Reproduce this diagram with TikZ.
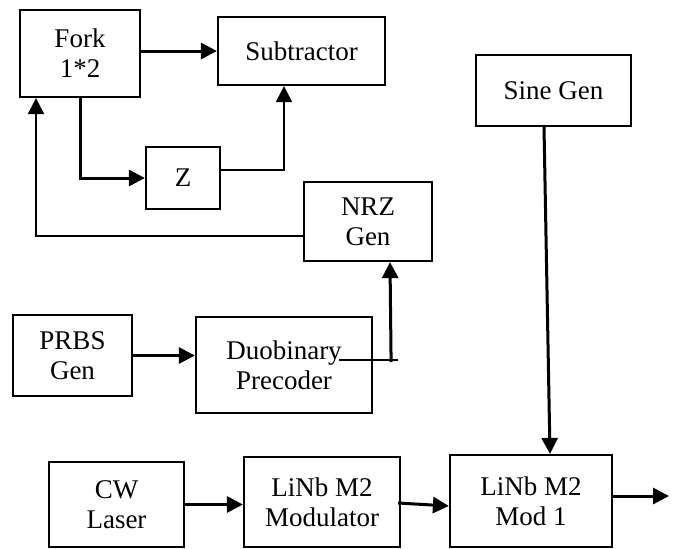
\documentclass[tikz,border=0pt]{standalone}
\usepackage{fontspec}
\setmainfont{Liberation Serif}
\usetikzlibrary{arrows.meta, calc}

\begin{document}
\begin{tikzpicture}[
		x=0.5pt, y=-0.5pt,
		>={Triangle[length=8pt, width=8pt]},
		block/.style={rectangle, draw=black, line width=1.1pt, inner sep=0pt, align=center, font=\fontsize{13.5}{15}\selectfont},
		arr/.style={->, line width=1.5pt},
		wire/.style={line width=1pt}
		]
		\useasboundingbox (0,0) rectangle (674,548);
		
		% Upper part
		\node[block, minimum width=60pt, minimum height=43.5pt] (fork) at (80, 53.5) {Fork\\1*2};
		\node[block, minimum width=83.5pt, minimum height=34pt] (sub) at (301.5, 51) {Subtractor};
		\node[block, minimum width=37pt, minimum height=31pt] (z) at (183, 178) {Z};
		\node[block, minimum width=64pt, minimum height=39.5pt] (nrz) at (368, 221.5) {NRZ\\Gen};
		\node[block, minimum width=77.5pt, minimum height=35.5pt] (sine) at (553.5, 90.5) {Sine Gen};
		
		% Middle row
		\node[block, minimum width=59.5pt, minimum height=40.5pt] (prbs) at (72.5, 355.5) {PRBS\\Gen};
		\node[block, minimum width=88pt, minimum height=48pt] (duo) at (284, 365) {Duobinary\\Precoder};
		
		% Bottom row
		\node[block, minimum width=67.5pt, minimum height=42.5pt] (cw) at (116.5, 504.5) {CW\\Laser};
		\node[block, minimum width=78pt, minimum height=45pt] (mod2) at (322, 502) {LiNb M2\\Modulator};
		\node[block, minimum width=81pt, minimum height=46pt] (mod1) at (531, 501) {LiNb M2\\Mod 1};
		\coordinate (out) at (669, 496);
		
		% Fork outputs
		\draw[arr] (fork.east |- sub.west) -- (sub.west);
		\draw[arr] (fork.south) |- (z.west);
		\draw[arr, line width=1.1pt] ($(z.east)+(0,-8)$) -| ($(sub.south)+(-17.5,0)$);
		
		% NRZ feedback to fork
		\draw[arr, line width=1.1pt] ($(nrz.west)+(0,14.5)$) -| ($(fork.south)+(-44,0)$);
		
		% Precoder to NRZ
		\draw[wire] ($(duo.east)+(-34,-5)$) -- ($(duo.east)+(25,-5)$);
		\draw[arr] ($(duo.east)+(18,-3)$) -- ($(nrz.south)+(22,0)$);
		\draw[arr] (prbs.east) -- (prbs.east -| duo.west);
		
		% Optical path
		\draw[arr] (cw.east) -- (cw.east -| mod2.west);
		\draw[arr] ($(mod2.east)+(-3,1)$) -- ($(mod1.west)+(0,5)$);
		\draw[arr] ($(sine.south)+(-9.5,0)$) -- ($(mod1.north)+(19,0)$);
		\draw[arr] (mod1.east |- out) -- (out);
		
	\end{tikzpicture}
\end{document}
